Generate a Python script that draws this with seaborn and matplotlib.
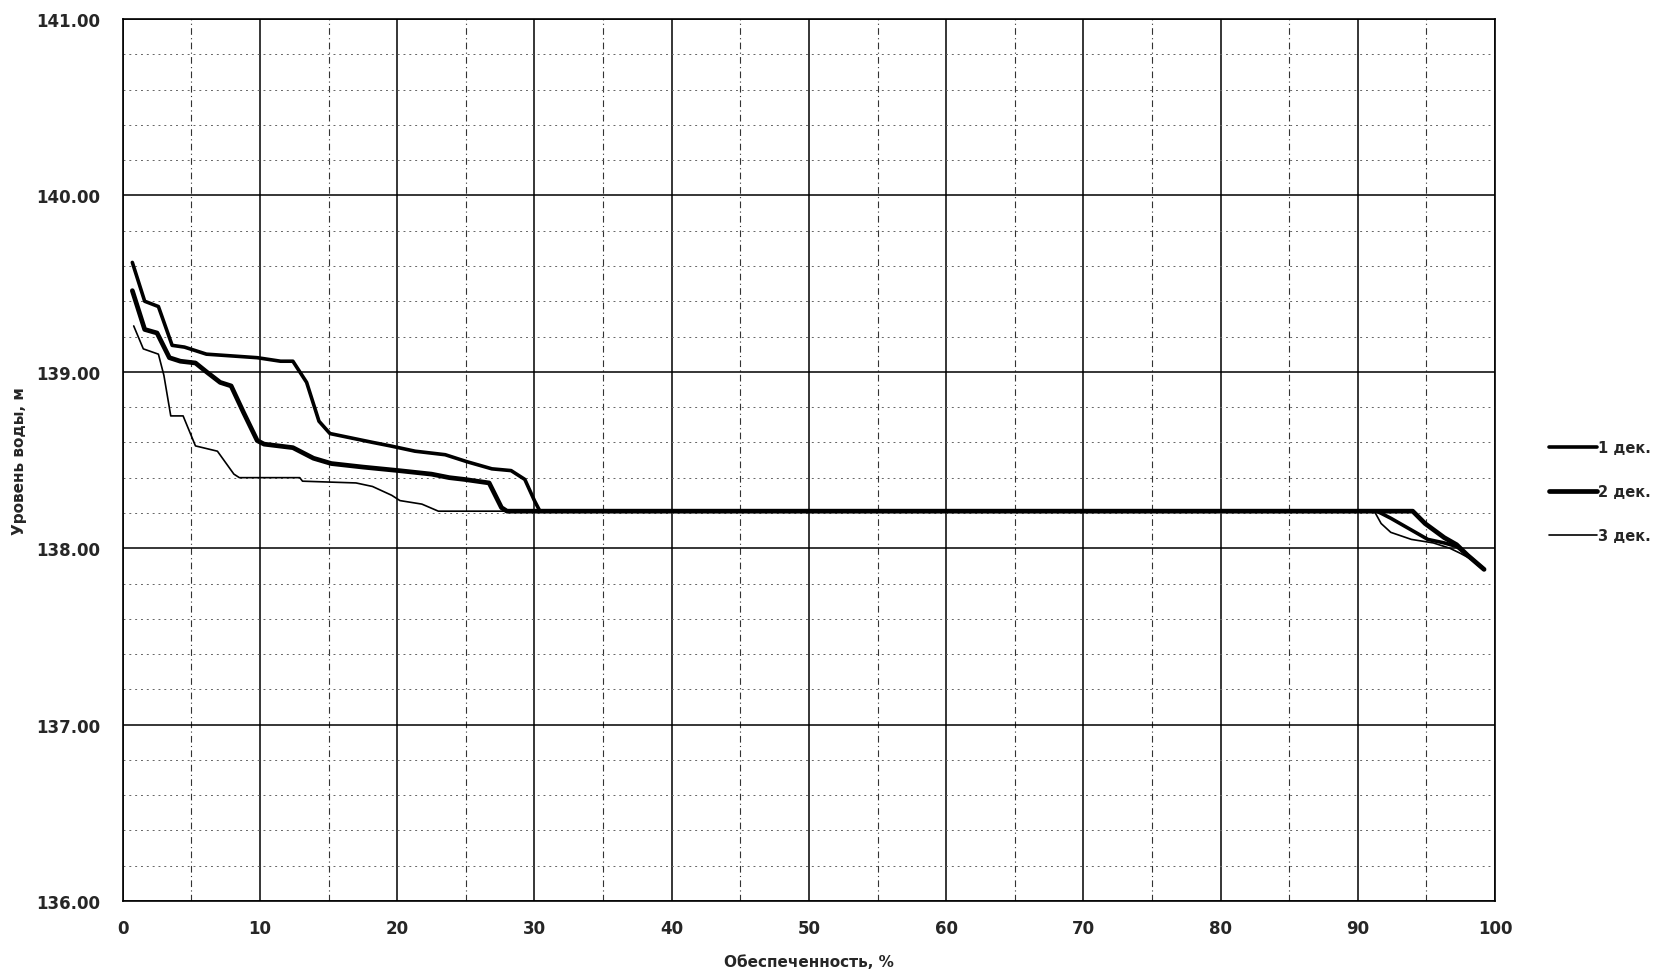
import pandas as pd
import matplotlib
matplotlib.use('Agg')
import matplotlib.pyplot as plt
import seaborn as sns
from matplotlib.ticker import MultipleLocator, FormatStrFormatter

# (обеспеченность, %  /  уровень воды, м)
x_dek1 = [0.7, 1.6, 2.6, 3.6, 4.5, 6.1, 9.8, 11.5, 12.4, 13.4, 14.3, 15.1, 18.2, 19.5,
          21.3, 23.5, 25.1, 26.9, 28.3, 29.3, 30.0, 30.4, 91.4, 92.4, 95.1, 96.3, 97.2, 98.0, 99.2]
y_dek1 = [139.62, 139.40, 139.37, 139.15, 139.14, 139.10, 139.08, 139.06, 139.06, 138.94, 138.72,
          138.65, 138.60, 138.58, 138.55, 138.53, 138.49, 138.45, 138.44, 138.39, 138.27, 138.21,
          138.21, 138.17, 138.05, 138.03, 138.01, 137.96, 137.88]

x_dek2 = [0.7, 1.6, 2.5, 3.4, 4.2, 5.3, 6.1, 7.1, 7.9, 8.8, 9.8, 10.3, 12.4, 13.9, 15.2, 17.5,
          20.1, 22.5, 23.8, 24.9, 26.7, 27.6, 28.0, 91.1, 94.0, 94.9, 96.3, 97.2, 98.0, 99.2]
y_dek2 = [139.46, 139.24, 139.22, 139.08, 139.06, 139.05, 139.00, 138.94, 138.92, 138.77, 138.61,
          138.59, 138.57, 138.51, 138.48, 138.46, 138.44, 138.42, 138.40, 138.39, 138.37, 138.23,
          138.21, 138.21, 138.21, 138.14, 138.06, 138.02, 137.96, 137.88]

x_dek3 = [0.8, 1.5, 2.6, 3.0, 3.5, 4.4, 5.3, 6.9, 8.1, 8.5, 12.9, 13.1, 17.0, 18.2, 19.6, 20.2,
          21.8, 23.0, 91.2, 91.7, 92.4, 93.9, 95.5, 96.7, 97.5, 98.2]
y_dek3 = [139.26, 139.13, 139.10, 138.98, 138.75, 138.75, 138.58, 138.55, 138.42, 138.40, 138.40,
          138.38, 138.37, 138.35, 138.30, 138.27, 138.25, 138.21, 138.21, 138.14, 138.09, 138.05,
          138.03, 138.00, 137.97, 137.94]

labels = ['1 дек.', '2 дек.', '3 дек.']

sns.set_style('white')
plt.rcParams['font.family'] = ['DejaVu Sans']

fig = plt.figure(figsize=(16.54, 9.79), dpi=100)
ax = fig.add_axes([0.0742, 0.0786, 0.8297, 0.9010])

series = [(x_dek1, y_dek1, 2.6), (x_dek2, y_dek2, 3.4), (x_dek3, y_dek3, 1.2)]
for (xs, ys, lw), lab in zip(series, labels):
    df = pd.DataFrame({'x': xs, 'y': ys})
    sns.lineplot(data=df, x='x', y='y', ax=ax, color='black', linewidth=lw,
                 sort=False, estimator=None, label=lab)

ax.set_xlim(0, 100)
ax.set_ylim(136, 141)
ax.xaxis.set_major_locator(MultipleLocator(10))
ax.xaxis.set_minor_locator(MultipleLocator(5))
ax.yaxis.set_major_locator(MultipleLocator(1))
ax.yaxis.set_minor_locator(MultipleLocator(0.2))
ax.yaxis.set_major_formatter(FormatStrFormatter('%.2f'))

ax.grid(which='major', color='black', linewidth=1.1)
ax.grid(which='minor', axis='x', color='#333333', linewidth=0.8, linestyle=(0, (6, 3, 1, 3)))
ax.grid(which='minor', axis='y', color='#666666', linewidth=0.7, linestyle=(0, (2, 4)))
ax.set_axisbelow(True)

for sp in ax.spines.values():
    sp.set_color('black')
    sp.set_linewidth(1.2)

ax.tick_params(axis='both', which='major', direction='out', length=5, width=1, color='black',
               labelsize=12, pad=8)
ax.tick_params(axis='both', which='minor', length=0)
ax.tick_params(axis='y', pad=11)
for t in ax.get_xticklabels() + ax.get_yticklabels():
    t.set_fontweight('bold')

ax.set_xlabel('Обеспеченность, %', fontsize=11, fontweight='bold', labelpad=12)
ax.set_ylabel('Уровень воды, м', fontsize=11, fontweight='bold', labelpad=7)

ax.legend(loc='center left', bbox_to_anchor=(0.932, 0.497), bbox_transform=fig.transFigure,
          frameon=False, prop={'size': 10.5, 'weight': 'bold'}, handlelength=3.3,
          handletextpad=0.1, labelspacing=2.0, borderpad=0)

fig.savefig('out.png', dpi=100)
